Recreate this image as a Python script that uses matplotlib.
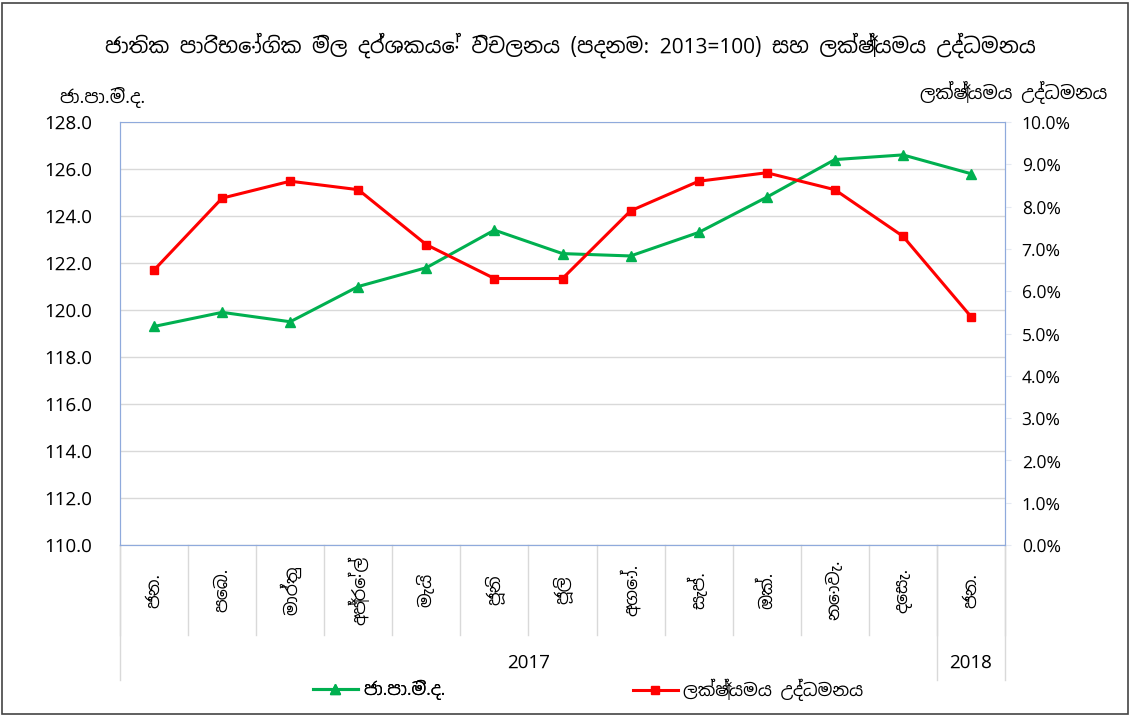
import matplotlib
matplotlib.use("Agg")
import matplotlib.pyplot as plt
import matplotlib.transforms as mtransforms
from matplotlib import font_manager
from matplotlib.lines import Line2D
from matplotlib.patches import Rectangle
import numpy as np

months = ["ජන.", "පෙබ.", "මාර්තු", "අප්‍රේල්", "මැයි", "ජූනි", "ජූලි",
          "අගෝ.", "සැප්.", "ඔක්.", "නොවැ.", "දෙසැ.", "ජන."]
years = ["2017", "2018"]
year_counts = [12, 1]
ccpi = [119.3, 119.9, 119.5, 121.0, 121.8, 123.4, 122.4, 122.3, 123.3, 124.8, 126.4, 126.6, 125.8]
inflation = [6.5, 8.2, 8.6, 8.4, 7.1, 6.3, 6.3, 7.9, 8.6, 8.8, 8.4, 7.3, 5.4]

title = "ජාතික පාරිභෝගික මිල දර්ශකයේ විචලනය (පදනම: 2013=100) සහ ලක්ෂ්‍යමය උද්ධමනය"
left_name = "ජා.පා.මි.ද."
right_name = "ලක්ෂ්‍යමය උද්ධමනය"

# pick a font with sinhala glyphs if one is around
fams = []
for f in font_manager.fontManager.ttflist:
    if "sinhala" in f.name.lower() and f.name not in fams:
        fams.append(f.name)
plt.rcParams["font.family"] = fams + ["DejaVu Sans"]

green = "#00B050"
red = "#FF0000"
axis_blue = "#8FAADC"
grid = "#D9D9D9"

fig = plt.figure(figsize=(11.3, 7.17), dpi=100)
fig.patches.append(Rectangle((0.002, 0.004), 0.996, 0.992, transform=fig.transFigure,
                             fill=False, edgecolor="#444444", linewidth=1.2))
ax = fig.add_axes([120 / 1130, 1 - 545 / 717, 885 / 1130, 423 / 717])
ax2 = ax.twinx()

x = np.arange(len(months))
ax.plot(x, ccpi, color=green, lw=2.2, marker="^", ms=7, zorder=3)
ax2.plot(x, inflation, color=red, lw=2.2, marker="s", ms=6, zorder=3)

ax.set_xlim(-0.5, len(months) - 0.5)
ax.set_ylim(110, 128)
ax.set_yticks(np.arange(110, 128.1, 2))
ax.set_yticklabels([f"{v:.1f}" for v in np.arange(110, 128.1, 2)], fontsize=13.5)
ax2.set_ylim(0, 10)
ax2.set_yticks(np.arange(0, 10.1, 1))
ax2.set_yticklabels([f"{v:.1f}%" for v in np.arange(0, 10.1, 1)], fontsize=12.5)
ax.set_xticks([])
ax.yaxis.grid(True, color=grid, lw=1)
ax.set_axisbelow(True)
ax.tick_params(axis="y", length=0, pad=20)
ax2.tick_params(axis="y", length=4, color="#E4E9F2", pad=8)

for a in (ax, ax2):
    a.spines["top"].set_visible(False)
    a.spines["left"].set_color(axis_blue)
    a.spines["right"].set_color(axis_blue)
    a.spines["bottom"].set_color(axis_blue)
ax.spines["top"].set_visible(True)
ax.spines["top"].set_color(axis_blue)

# multi-level category axis below the plot
trans = mtransforms.blended_transform_factory(ax.transData, ax.transAxes)
lvl1 = -90 / 423
lvl2 = -135 / 423
for i in range(len(months) + 1):
    ax.plot([i - 0.5, i - 0.5], [0, lvl1], transform=trans, color=grid, lw=1, clip_on=False)
for i, m in enumerate(months):
    ax.text(i, -45 / 423, m, transform=trans, rotation=90, ha="center", va="center", fontsize=12.5)
start = 0
for yname, n in zip(years, year_counts):
    ax.plot([start - 0.5, start - 0.5], [0, lvl2], transform=trans, color=grid, lw=1, clip_on=False)
    ax.text(start + (n - 1) / 2, -118 / 423, yname, transform=trans, ha="center", va="center", fontsize=13.5)
    start += n
ax.plot([start - 0.5, start - 0.5], [0, lvl2], transform=trans, color=grid, lw=1, clip_on=False)

fig.text(570 / 1130, 1 - 45 / 717, title, ha="center", va="center", fontsize=15)
fig.text(102 / 1130, 1 - 97 / 717, left_name, ha="center", va="center", fontsize=13)
fig.text(1014 / 1130, 1 - 92 / 717, right_name, ha="center", va="center", fontsize=13)

h1 = Line2D([], [], color=green, lw=2.2, marker="^", ms=7)
h2 = Line2D([], [], color=red, lw=2.2, marker="s", ms=6)
leg1 = fig.legend([h1], [left_name], loc="center left", bbox_to_anchor=(297 / 1130, 1 - 690 / 717),
                  frameon=False, fontsize=12.5, handlelength=2.6, handletextpad=0.3)
fig.add_artist(leg1)
fig.legend([h2], [right_name], loc="center left", bbox_to_anchor=(617 / 1130, 1 - 690 / 717),
           frameon=False, fontsize=12.5, handlelength=2.6, handletextpad=0.3)

fig.savefig("out.png", dpi=100)
